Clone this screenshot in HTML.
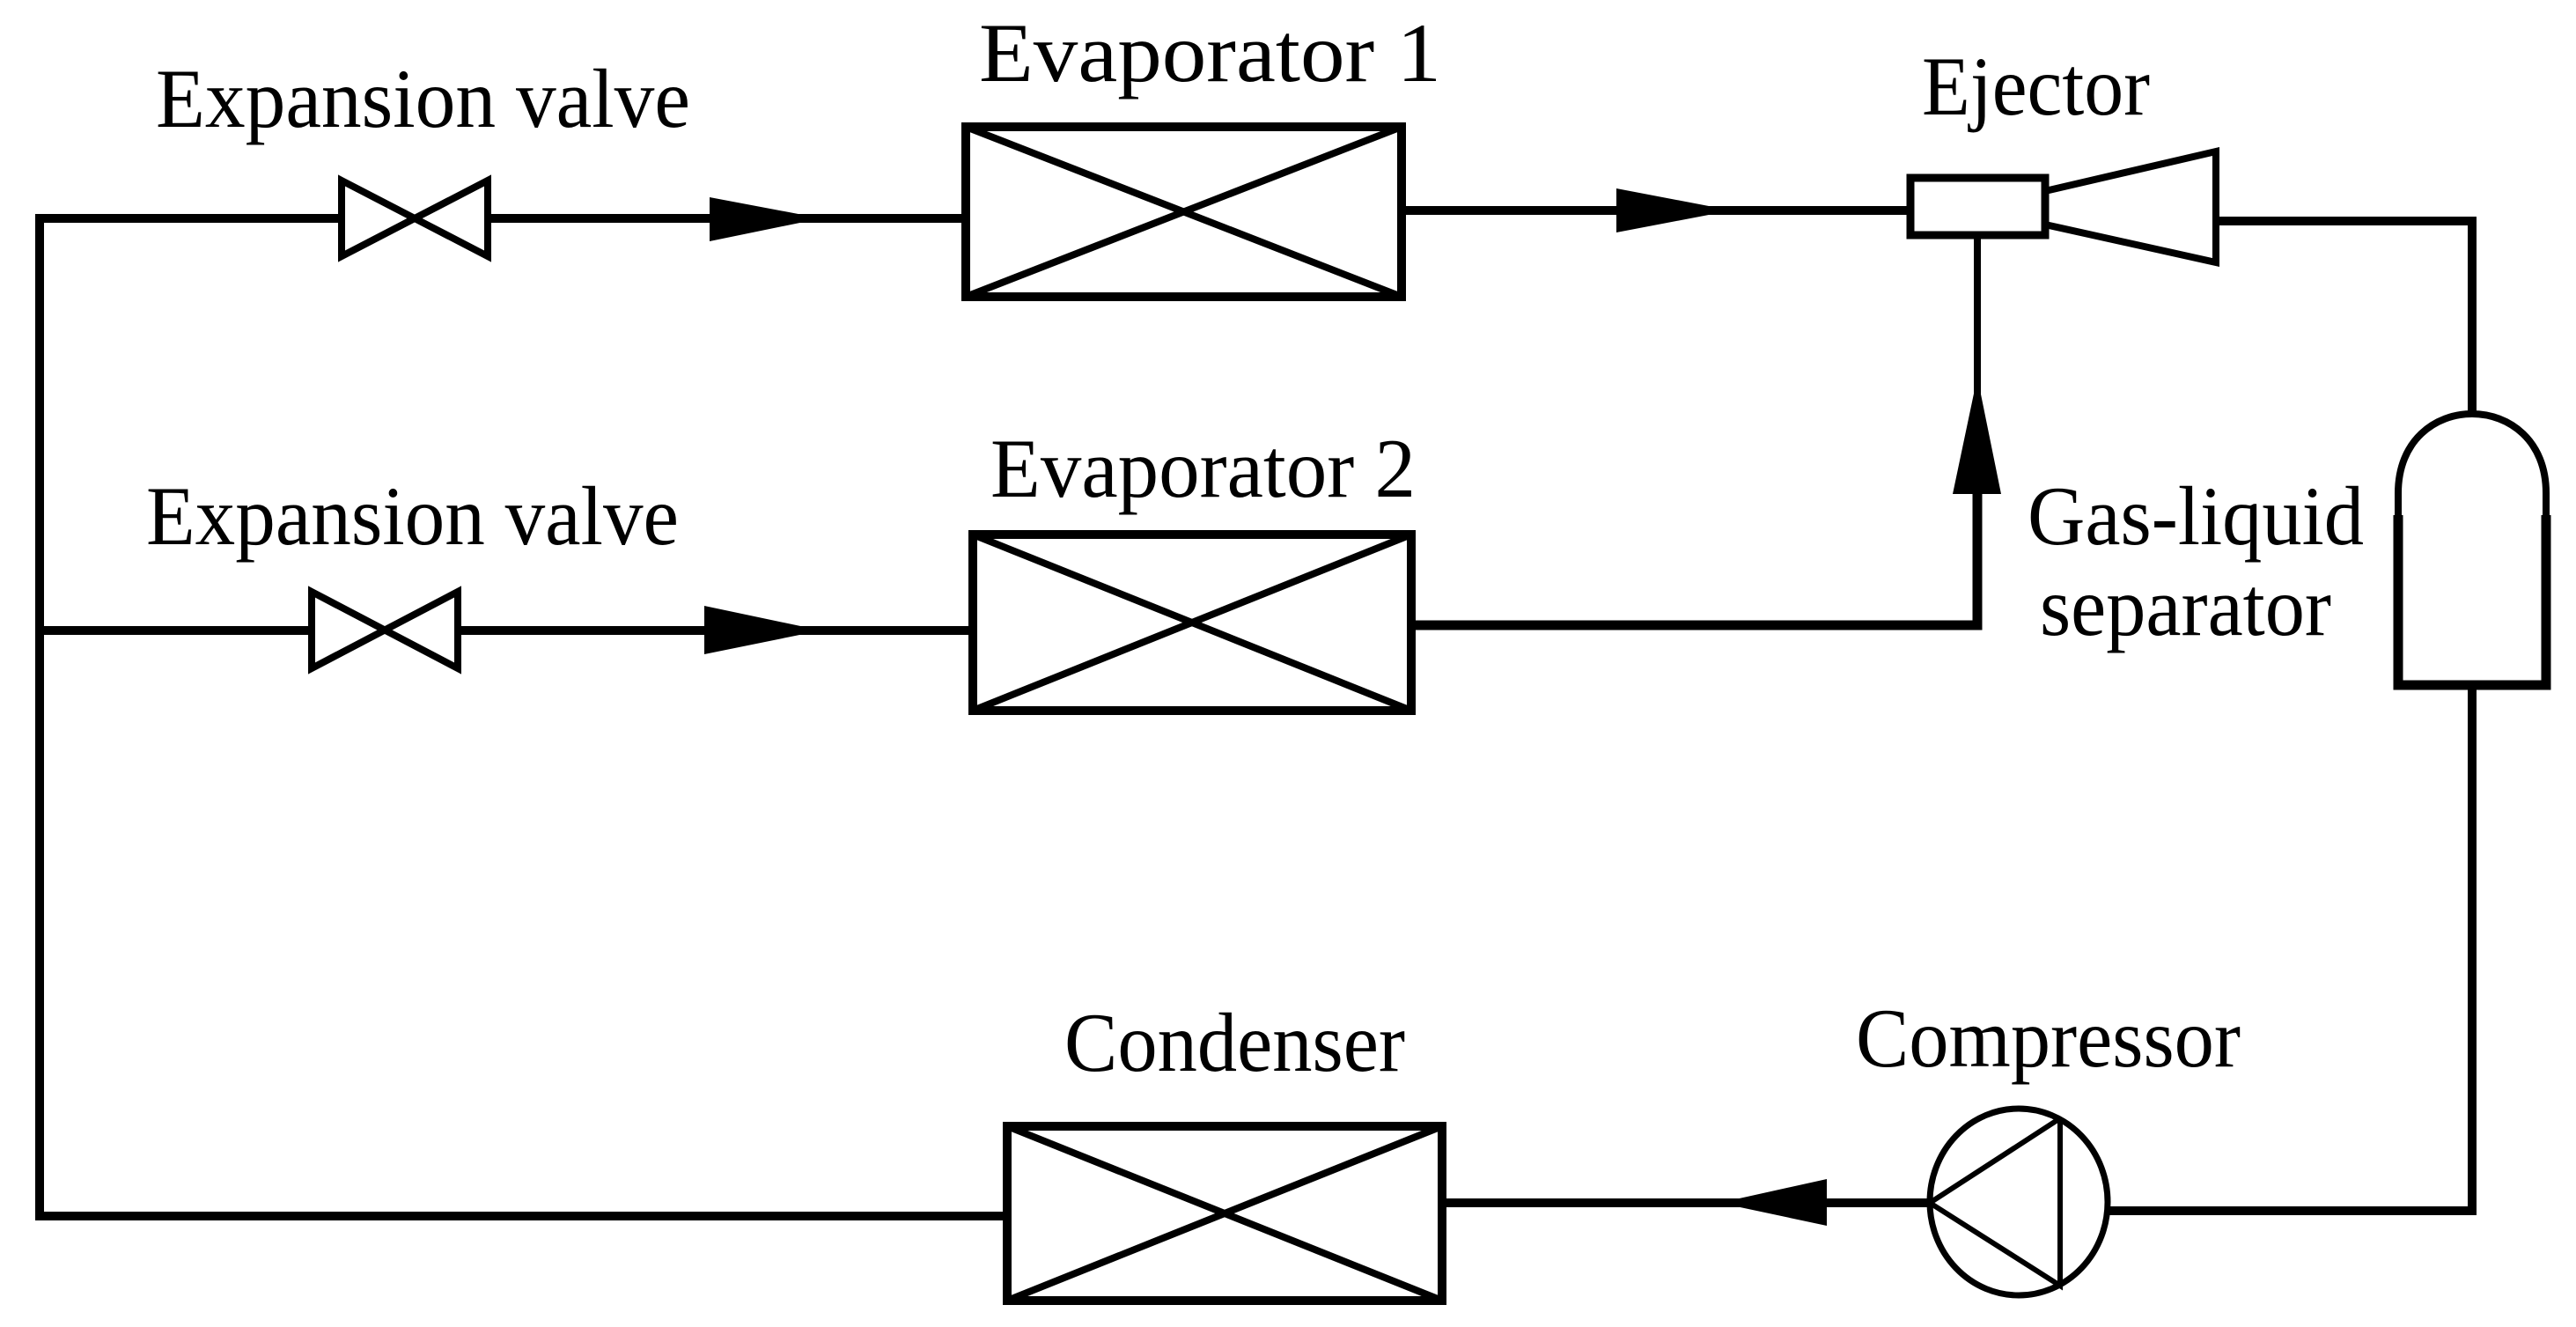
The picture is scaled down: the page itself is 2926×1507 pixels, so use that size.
<!DOCTYPE html>
<html><head><meta charset="utf-8"><style>html,body{margin:0;padding:0;background:#fff}svg{display:block}</style></head>
<body>
<svg width="2926" height="1507" viewBox="0 0 2926 1507" xmlns="http://www.w3.org/2000/svg">
<g fill="none" stroke="#000" stroke-width="10">
<!-- left loop line -->
<polyline points="388,248 45,248 45,1381 1144,1381"/>
<line x1="45" y1="716" x2="354" y2="716"/>
<!-- top branch -->
<line x1="554" y1="248" x2="1097" y2="248"/>
<polygon points="388,205 554,291 554,205 388,291" stroke-width="8"/>
<rect x="1097" y="144" width="495" height="193"/>
<line x1="1097" y1="144" x2="1592" y2="337" stroke-width="8"/>
<line x1="1097" y1="337" x2="1592" y2="144" stroke-width="8"/>
<line x1="1592" y1="239" x2="2170" y2="239"/>
<!-- ejector -->
<rect x="2170" y="202" width="153" height="65" stroke-width="9"/>
<polygon points="2323,217 2517,172 2517,298 2323,255" stroke-width="8"/>
<polyline points="2517,251 2808,251 2808,469"/>
<line x1="2246" y1="267" x2="2246" y2="712" stroke-width="8"/>
<!-- separator -->
<path d="M2724,585 L2724,560 C2724,440 2892,440 2892,560 L2892,585" stroke-width="8"/>
<path d="M2724,585 L2724,778 L2892,778 L2892,585" stroke-width="11"/>
<polyline points="2808,778 2808,1375 2394,1375"/>
<!-- second branch -->
<polygon points="354,672 520,759 520,672 354,759" stroke-width="8"/>
<line x1="520" y1="716" x2="1105" y2="716"/>
<rect x="1105" y="607" width="498" height="200"/>
<line x1="1105" y1="607" x2="1603" y2="807" stroke-width="8"/>
<line x1="1105" y1="807" x2="1603" y2="607" stroke-width="8"/>
<polyline points="1603,710 2246,710 2246,560" stroke-width="11"/>
<!-- condenser -->
<rect x="1144" y="1279" width="494" height="198"/>
<line x1="1144" y1="1279" x2="1638" y2="1477" stroke-width="8"/>
<line x1="1144" y1="1477" x2="1638" y2="1279" stroke-width="8"/>
<line x1="1638" y1="1366" x2="2192" y2="1366"/>
<!-- compressor -->
<ellipse cx="2293" cy="1365" rx="101" ry="106" stroke-width="7"/>
<polyline points="2340,1270 2192,1366 2340,1460 2340,1270" stroke-width="6"/>
</g>
<g fill="#000">
<polygon points="806,224 933,248 806,274"/>
<polygon points="1836,214 1967,239 1836,264"/>
<polygon points="800,688 933,716 800,743"/>
<polygon points="2246,428 2273,561 2218,561"/>
<polygon points="1953,1366 2075,1339 2075,1392"/>
</g>
<g font-family="'Liberation Serif', serif" font-size="95" fill="#000">
<text x="177" y="144" textLength="607" lengthAdjust="spacingAndGlyphs">Expansion valve</text>
<text x="166" y="618" textLength="605" lengthAdjust="spacingAndGlyphs">Expansion valve</text>
<text x="1112" y="92" textLength="525" lengthAdjust="spacingAndGlyphs">Evaporator 1</text>
<text x="1125" y="564" textLength="483" lengthAdjust="spacingAndGlyphs">Evaporator 2</text>
<text x="2183" y="130" textLength="259" lengthAdjust="spacingAndGlyphs">Ejector</text>
<text x="2303" y="618" textLength="382" lengthAdjust="spacingAndGlyphs">Gas-liquid</text>
<text x="2317" y="721" textLength="331" lengthAdjust="spacingAndGlyphs">separator</text>
<text x="1209" y="1216" textLength="387" lengthAdjust="spacingAndGlyphs">Condenser</text>
<text x="2108" y="1211" textLength="437" lengthAdjust="spacingAndGlyphs">Compressor</text>
</g>
</svg>
</body></html>
